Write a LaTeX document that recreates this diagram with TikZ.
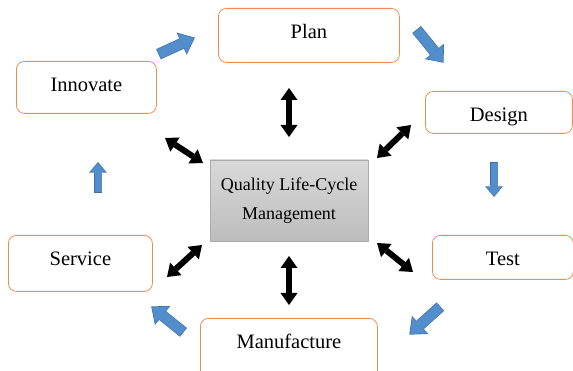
\documentclass[tikz,border=0pt]{standalone}
\usepackage{fontspec}
\setmainfont{Liberation Serif}
\usetikzlibrary{positioning, arrows.meta}

\definecolor{boxline}{RGB}{240,140,80}
\definecolor{flowblue}{RGB}{82,142,204}
\definecolor{flowedge}{RGB}{62,108,160}
\definecolor{coreline}{RGB}{172,172,172}

\begin{document}
\begin{tikzpicture}
[
    x=1pt, y=-1pt,
    % The stages are named after their label, the middle box is (core)
    % Arrow ends are coordinates: <stage>-a / <stage>-b for the blue
    % cycle, <stage>-c and core-1 ... core-6 for the black links
]

%=================================== Start ===================================
\tikzstyle{stage} = [draw=boxline, line width=0.8pt, rounded corners=8pt,
    anchor=north west, inner sep=0pt, text height=29.8pt,
    font=\fontsize{20.5}{24}\selectfont]
\tikzstyle{core}  = [draw=coreline, line width=0.6pt, top color=black!15,
    bottom color=black!26, minimum width=158pt, minimum height=81pt,
    align=center, font=\fontsize{18}{29}\selectfont]
\tikzstyle{link}  = [line width=6pt,
    {Triangle[length=12pt,width=17pt,line width=0pt]}-{Triangle[length=12pt,width=17pt,line width=0pt]}]
\tikzstyle{flow}  = [flowblue, line width=#1,
    -{Triangle[length=1.3*#1,width=2.2*#1,line width=0pt]},
    preaction={draw=flowedge, line width=#1+1.2pt, shorten <=-0.6pt, shorten >=-1pt,
        -{Triangle[length=1.3*#1+1.6pt,width=2.2*#1+2.4pt,line width=0pt]}}]

\useasboundingbox (0,0) rectangle (573,371);
\clip (0,0) rectangle (573,371);

{
    % Draw the six stages (top left corner, width, text depth)
    \foreach \name/\x/\y/\w/\d/\txt in {plan/218/8/181/24.2/Plan,
            inno/16/61/140/22.2/Innovate, design/425/91/147/12.2/Design,
            test/432/235/141/14.2/Test, serv/8/235/144/26.2/Service,
            manu/200/318/177/32/Manufacture}
        \node[stage, minimum width=\w pt, text depth=\d pt] (\name) at (\x,\y) {\txt};

    % Draw the middle box
    \node[core] (core) at (289,200.5) {Quality Life-Cycle\\Management};

    % arrow ends
    \foreach \n/\x/\y in {inno-a/159/54, plan-a/194/38, plan-b/417/30,
            design-a/443/62, design-b/494/163, test-a/494/196,
            test-b/440/307, manu-a/410/334, manu-b/183/332,
            serv-a/152/307, serv-b/98/192, inno-b/98/163,
            plan-c/289/88, core-1/289/137, design-c/411/125, core-2/377/158,
            test-c/413/272, core-3/377/243, manu-c/289/305, core-4/289/256,
            serv-c/167/277, core-5/202/245, inno-c/165/138, core-6/203/163}
        \coordinate (\n) at (\x,\y);

    % blue cycle
    \foreach \source/\dest/\w in {inno-a/plan-a/10, plan-b/design-a/10,
            design-b/test-a/7, test-b/manu-a/10, manu-b/serv-a/10,
            serv-b/inno-b/7}
        \draw[flow=\w pt] (\source) -- (\dest);

    % links to the middle box
    \foreach \source/\dest in {core-1/plan-c, core-2/design-c, core-3/test-c,
            core-4/manu-c, core-5/serv-c, core-6/inno-c}
        \draw[link] (\source) -- (\dest);
}
%==================================== END ====================================

\end{tikzpicture}
\end{document}
